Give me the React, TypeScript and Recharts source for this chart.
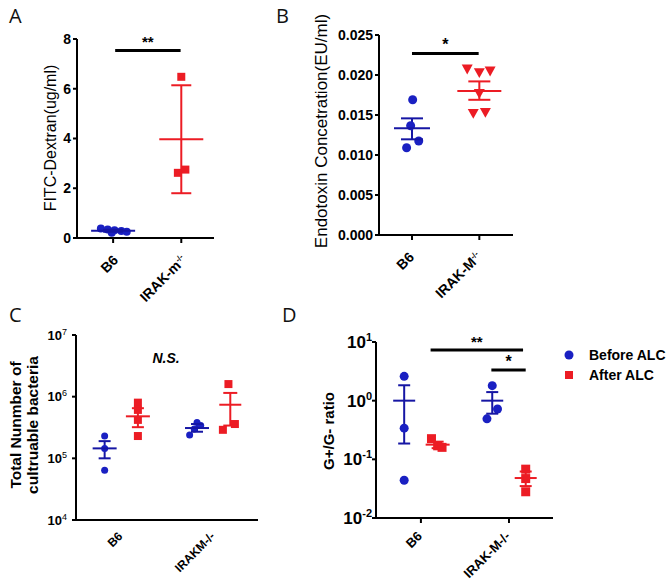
import React from "react";
import { ScatterChart, Scatter, XAxis, YAxis, ReferenceLine, Legend } from "recharts";

const BLUE = "#1616a4";
const DOT_BLUE = "#1a20c2";
const RED = "#ec1c24";
const FONT = "'Liberation Sans', Arial, sans-serif";

// Panel A: FITC-Dextran
const aCategories = ["B6", "IRAK-m"];
const aSuperscripts = ["", "-/-"];
const aB6Values = [0.38, 0.34, 0.31, 0.28, 0.25, 0.21];
const aB6Jitter = [-0.18, -0.08, 0.02, 0.12, 0.2, -0.02];
const aB6Summary = { mean: 0.29, lo: 0.25, hi: 0.33 };
const aIrakValues = [6.48, 2.75, 2.62];
const aIrakJitter = [0, 0.06, -0.05];
const aIrakSummary = { mean: 3.97, lo: 1.8, hi: 6.14 };
const aTicks = [0, 2, 4, 6, 8];

// Panel B: endotoxin
const bCategories = ["B6", "IRAK-M"];
const bSuperscripts = ["", "-/-"];
const bB6Values = [0.0169, 0.01366, 0.01175, 0.01091];
const bB6Jitter = [0.01, -0.02, 0.1, -0.08];
const bB6Summary = { mean: 0.01334, lo: 0.01196, hi: 0.01458 };
const bIrakValues = [0.02075, 0.0203, 0.0205, 0.01771, 0.01521, 0.01534];
const bIrakJitter = [-0.18, 0, 0.16, 0, -0.09, 0.09];
const bIrakSummary = { mean: 0.018, lo: 0.0169, hi: 0.0192 };
const bTicks = [0, 0.005, 0.01, 0.015, 0.02, 0.025];

// Panel C: culturable bacteria
const cCategories = ["B6", "IRAKM-/-"];
const cB6Before = [2.3e5, 1.44e5, 6.4e4];
const cB6BeforeSummary = { mean: 1.45e5, lo: 1.0e5, hi: 1.9e5 };
const cB6After = [8e5, 6.1e5, 4.2e5, 2.3e5];
const cB6AfterSummary = { mean: 4.8e5, lo: 3.2e5, hi: 6.5e5 };
const cIrakBefore = [3.8e5, 3.4e5, 3.0e5, 2.4e5];
const cIrakBeforeJitter = [0, 0.04, -0.03, -0.08];
const cIrakBeforeSummary = { mean: 3.1e5, lo: 2.7e5, hi: 3.6e5 };
const cIrakAfter = [1.6e6, 3.6e5, 2.9e5];
const cIrakAfterJitter = [-0.02, 0.05, -0.08];
const cIrakAfterSummary = { mean: 7.4e5, lo: 3.4e5, hi: 1.15e6 };
const cTicks = [1e4, 1e5, 1e6, 1e7];

// Panel D: G+/G- ratio
const dCategories = ["B6", "IRAK-M-/-"];
const dB6Before = [2.6, 0.34, 0.044];
const dB6BeforeSummary = { mean: 1.0, lo: 0.186, hi: 1.83 };
const dB6After = [0.225, 0.17, 0.16];
const dB6AfterJitter = [-0.07, 0, 0.05];
const dB6AfterSummary = { mean: 0.178, lo: 0.155, hi: 0.2 };
const dIrakBefore = [1.8, 0.72, 0.49];
const dIrakBeforeJitter = [0, 0.06, -0.06];
const dIrakBeforeSummary = { mean: 1.0, lo: 0.6, hi: 1.4 };
const dIrakAfter = [0.068, 0.047, 0.028];
const dIrakAfterSummary = { mean: 0.048, lo: 0.035, hi: 0.062 };
const dTicks = [0.01, 0.1, 1, 10];
const dLegend = ["Before ALC", "After ALC"];

type Summary = { mean: number; lo: number; hi: number };

const hline = (half: number, color: string, width = 2) => (p: any) =>
  <line x1={p.cx - half} x2={p.cx + half} y1={p.cy} y2={p.cy} stroke={color} strokeWidth={width} />;

const circle = (r: number, color: string) => (p: any) =>
  <circle cx={p.cx} cy={p.cy} r={r} fill={color} />;

const square = (s: number, color: string) => (p: any) =>
  <rect x={p.cx - s / 2} y={p.cy - s / 2} width={s} height={s} fill={color} />;

const triDown = (s: number, color: string) => (p: any) =>
  <polygon
    points={`${p.cx - s / 2},${p.cy - s * 0.4} ${p.cx + s / 2},${p.cy - s * 0.4} ${p.cx},${p.cy + s * 0.5}`}
    fill={color}
  />;

// one group = dots + whisker + caps + mean line
function groupMarks(
  key: string,
  x: number,
  values: number[],
  jitter: number[] | null,
  s: Summary,
  color: string,
  marker: (p: any) => React.ReactElement,
  meanHalf: number,
  capHalf: number
) {
  const points = values.map((v, i) => ({ x: x + (jitter ? jitter[i] : 0), y: v }));
  return [
    <Scatter key={key + "p"} data={points} shape={marker} isAnimationActive={false} />,
    <ReferenceLine
      key={key + "w"}
      segment={[{ x, y: s.lo }, { x, y: s.hi }]}
      stroke={color}
      strokeWidth={2}
    />,
    <Scatter key={key + "c"} data={[{ x, y: s.lo }, { x, y: s.hi }]} shape={hline(capHalf, color)} isAnimationActive={false} />,
    <Scatter key={key + "m"} data={[{ x, y: s.mean }]} shape={hline(meanHalf, color)} isAnimationActive={false} />,
  ];
}

function bracket(key: string, from: number, to: number, y: number, text: string, size = 15) {
  return (
    <ReferenceLine
      key={key}
      segment={[{ x: from, y }, { x: to, y }]}
      stroke="#000"
      strokeWidth={3}
      label={{ value: text, position: "top", offset: 3, fill: "#000", fontSize: size, fontWeight: "bold", fontFamily: FONT }}
    />
  );
}

const rotTick = (labels: string[], sups: string[] | null, size: number, dx: number, dy: number) => (p: any) => {
  const i = Math.round(p.payload.value);
  const sup = sups ? sups[i] : "";
  return (
    <g transform={`translate(${p.x + dx},${p.y + dy})`}>
      <text textAnchor="end" transform="rotate(-45)" fontFamily={FONT} fontWeight="bold" fontSize={size} fill="#000">
        {labels[i]}
        {sup ? <tspan dy={-5} fontSize={8}>{sup}</tspan> : null}
      </text>
    </g>
  );
};

const powTick = (size: number, supSize: number, supDy: number, supWeight: string) => (p: any) => {
  const e = Math.round(Math.log10(p.payload.value));
  return (
    <text x={p.x} y={p.y} dy={size * 0.36} textAnchor="end" fontFamily={FONT} fontWeight="bold" fontSize={size} fill="#000">
      10
      <tspan dy={supDy} fontSize={supSize} fontWeight={supWeight}>{e}</tspan>
    </text>
  );
};

const axisLine = { stroke: "#000", strokeWidth: 2 };
const tickLine = { stroke: "#000", strokeWidth: 2 };

const abs = (left: number, top: number): React.CSSProperties => ({ position: "absolute", left, top });

const vTitle = (x: number, y: number, size: number, weight: string): React.CSSProperties => ({
  position: "absolute",
  left: x,
  top: y,
  transform: "translate(-50%, -50%) rotate(-90deg)",
  whiteSpace: "nowrap",
  fontFamily: FONT,
  fontSize: size,
  fontWeight: weight as any,
  color: "#000",
  textAlign: "center",
});

const letter = (x: number, y: number): React.CSSProperties => ({
  position: "absolute",
  left: x,
  top: y,
  fontFamily: "'Open Sans', sans-serif",
  fontSize: 20,
  lineHeight: "20px",
  color: "#111",
});

function LegendBox() {
  return (
    <div style={{ fontFamily: FONT, fontSize: 14, fontWeight: "bold", color: "#000" }}>
      <div style={{ display: "flex", alignItems: "center", height: 20 }}>
        <svg width={26} height={12}>
          <circle cx={6} cy={6} r={4.5} fill={DOT_BLUE} />
        </svg>
        <span>{dLegend[0]}</span>
      </div>
      <div style={{ display: "flex", alignItems: "center", height: 20 }}>
        <svg width={26} height={12}>
          <rect x={2} y={2} width={8} height={8} fill={RED} />
        </svg>
        <span>{dLegend[1]}</span>
      </div>
    </div>
  );
}

export default function App() {
  return (
    <div style={{ position: "absolute", left: 0, top: 0, width: 672, height: 581, background: "#fff", overflow: "hidden" }}>
      <div style={letter(9, 6)}>A</div>
      <div style={letter(276, 6)}>B</div>
      <div style={letter(9, 305)}>C</div>
      <div style={letter(282, 305)}>D</div>

      <div style={vTitle(51, 138, 16, "normal")}>FITC-Dextran(ug/ml)</div>
      <div style={vTitle(322, 131, 17, "normal")}>Endotoxin Concetration(EU/ml)</div>
      <div style={{ ...vTitle(24, 425, 15.5, "bold"), lineHeight: "17px" }}>
        Total Nunmber of
        <br />
        cultruable bacteria
      </div>
      <div style={vTitle(328, 431, 15, "bold")}>G+/G- ratio</div>
      <div style={{ position: "absolute", left: 166, top: 358, transform: "translate(-50%, -50%)", fontFamily: FONT, fontSize: 14, fontWeight: "bold", fontStyle: "italic" }}>
        N.S.
      </div>

      {/* A */}
      <div style={abs(0, 0)}>
        <ScatterChart width={240} height={320} margin={{ top: 39, right: 26, left: 0, bottom: 30 }}>
          <XAxis
            type="number"
            dataKey="x"
            domain={[-0.53, 1.48]}
            ticks={[0, 1]}
            interval={0}
            allowDataOverflow
            height={52}
            axisLine={axisLine}
            tickLine={tickLine}
            tickSize={5}
            tickMargin={0}
            tick={rotTick(aCategories, aSuperscripts, 14, 6, 18)}
          />
          <YAxis
            type="number"
            dataKey="y"
            domain={[0, 8]}
            ticks={aTicks}
            interval={0}
            allowDataOverflow
            width={77}
            axisLine={axisLine}
            tickLine={tickLine}
            tickSize={4}
            tickMargin={2}
            tick={{ fill: "#000", fontSize: 14, fontWeight: "bold", fontFamily: FONT }}
          />
          {groupMarks("ab6", 0, aB6Values, aB6Jitter, aB6Summary, BLUE, circle(4, DOT_BLUE), 22, 10)}
          {groupMarks("airak", 1, aIrakValues, aIrakJitter, aIrakSummary, RED, square(8, RED), 22, 10)}
          {bracket("abr", 0.03, 0.99, 7.54, "**")}
        </ScatterChart>
      </div>

      {/* B */}
      <div style={abs(240, 0)}>
        <ScatterChart width={290} height={320} margin={{ top: 35, right: 17, left: 0, bottom: 30 }}>
          <XAxis
            type="number"
            dataKey="x"
            domain={[-0.49, 1.5]}
            ticks={[0, 1]}
            interval={0}
            allowDataOverflow
            height={55}
            axisLine={axisLine}
            tickLine={tickLine}
            tickSize={5}
            tickMargin={0}
            tick={rotTick(bCategories, bSuperscripts, 14, 3, 18)}
          />
          <YAxis
            type="number"
            dataKey="y"
            domain={[0, 0.025]}
            ticks={bTicks}
            interval={0}
            allowDataOverflow
            width={139}
            axisLine={axisLine}
            tickLine={tickLine}
            tickSize={4}
            tickMargin={2}
            tickFormatter={(v: number) => v.toFixed(3)}
            tick={{ fill: "#000", fontSize: 14, fontWeight: "bold", fontFamily: FONT }}
          />
          {groupMarks("bb6", 0, bB6Values, bB6Jitter, bB6Summary, BLUE, circle(4.5, DOT_BLUE), 18, 11)}
          {groupMarks("birak", 1, bIrakValues, bIrakJitter, bIrakSummary, RED, triDown(11, RED), 22, 11)}
          {bracket("bbr", 0, 0.99, 0.0227, "*", 16)}
        </ScatterChart>
      </div>

      {/* C */}
      <div style={abs(0, 290)}>
        <ScatterChart width={290} height={291} margin={{ top: 45, right: 32, left: 0, bottom: 0 }}>
          <XAxis
            type="number"
            dataKey="x"
            domain={[-0.49, 1.48]}
            ticks={[0, 1]}
            interval={0}
            allowDataOverflow
            height={61}
            axisLine={axisLine}
            tickLine={false}
            tickSize={0}
            tickMargin={0}
            tick={rotTick(cCategories, null, 12, 2, 17)}
          />
          <YAxis
            type="number"
            dataKey="y"
            scale="log"
            domain={[1e4, 1e7]}
            ticks={cTicks}
            interval={0}
            allowDataOverflow
            width={76}
            axisLine={axisLine}
            tickLine={tickLine}
            tickSize={4}
            tickMargin={5}
            tick={powTick(13, 9, -5, "normal")}
          />
          {groupMarks("cb6b", -0.18, cB6Before, null, cB6BeforeSummary, BLUE, circle(3.5, DOT_BLUE), 12, 6)}
          {groupMarks("cb6a", 0.18, cB6After, null, cB6AfterSummary, RED, square(8, RED), 12, 6)}
          {groupMarks("cirb", 0.82, cIrakBefore, cIrakBeforeJitter, cIrakBeforeSummary, BLUE, circle(3.5, DOT_BLUE), 12, 6)}
          {groupMarks("cira", 1.18, cIrakAfter, cIrakAfterJitter, cIrakAfterSummary, RED, square(8, RED), 11, 7)}
        </ScatterChart>
      </div>

      {/* D */}
      <div style={abs(290, 290)}>
        <ScatterChart width={382} height={291} margin={{ top: 52, right: 119, left: 0, bottom: 0 }}>
          <XAxis
            type="number"
            dataKey="x"
            domain={[-0.51, 1.5]}
            ticks={[0, 1]}
            interval={0}
            allowDataOverflow
            height={63}
            axisLine={axisLine}
            tickLine={tickLine}
            tickSize={5}
            tickMargin={0}
            tick={rotTick(dCategories, null, 13, 2, 14)}
          />
          <YAxis
            type="number"
            dataKey="y"
            scale="log"
            domain={[0.01, 10]}
            ticks={dTicks}
            interval={0}
            allowDataOverflow
            width={86}
            axisLine={axisLine}
            tickLine={tickLine}
            tickSize={4}
            tickMargin={0}
            tick={powTick(17, 11, -7, "bold")}
          />
          {groupMarks("db6b", -0.19, dB6Before, null, dB6BeforeSummary, BLUE, circle(4.5, DOT_BLUE), 11, 6)}
          {groupMarks("db6a", 0.19, dB6After, dB6AfterJitter, dB6AfterSummary, RED, square(9, RED), 12, 6)}
          {groupMarks("dirb", 0.81, dIrakBefore, dIrakBeforeJitter, dIrakBeforeSummary, BLUE, circle(4.5, DOT_BLUE), 11, 6)}
          {groupMarks("dira", 1.19, dIrakAfter, null, dIrakAfterSummary, RED, square(9, RED), 11, 6)}
          {bracket("dbr1", 0.11, 1.16, 7.3, "**")}
          {bracket("dbr2", 0.8, 1.19, 3.34, "*", 16)}
          <Legend
            layout="vertical"
            align="center"
            verticalAlign="middle"
            content={() => <LegendBox />}
            wrapperStyle={{ position: "absolute", left: 273, top: 55, width: 110 }}
          />
        </ScatterChart>
      </div>
    </div>
  );
}
